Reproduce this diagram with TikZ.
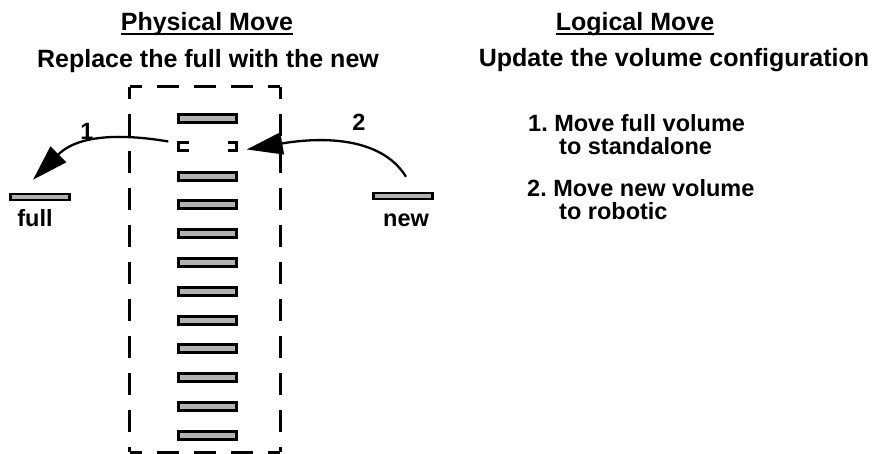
\documentclass[tikz,border=0pt]{standalone}
\usepackage{fontspec}
\setmainfont{Liberation Sans}
\usetikzlibrary{arrows.meta,calc}
\frenchspacing
\begin{document}
\begin{tikzpicture}[x=1pt,y=-1pt,
  slot/.style={draw=black,fill=gray!60,line width=3pt,minimum width=58pt,minimum height=8pt,inner sep=0pt},
  looseslot/.style={draw=black,fill=gray!60,line width=2.5pt,minimum width=59pt,minimum height=6pt,inner sep=0pt},
  slotspace/.style={minimum width=58pt,minimum height=7pt,inner sep=0pt},
  ttl/.style={font=\bfseries\fontsize{25}{25}\selectfont,inner sep=0pt,anchor=base},
  txt/.style={font=\bfseries\fontsize{23.5}{23.5}\selectfont,inner sep=0pt,anchor=base west},
  lbl/.style={font=\bfseries\fontsize{23.5}{23.5}\selectfont,inner sep=0pt,anchor=base},
  mv/.style={line width=2.3pt,-{Triangle[length=36pt,width=22pt]}},
  uline/.style={line width=2pt},
  rackedge/.style={line width=3pt,dash pattern=on 22pt off 15pt,dash phase=10pt},
  bracket/.style={line width=3pt,line join=miter}]
\useasboundingbox (0,0) rectangle (876,454);

% titles
\node[ttl] (phys) at (207,31) {Physical Move};
\draw[uline] ([yshift=-3.5pt]phys.base west) -- ([yshift=-3.5pt]phys.base east);
\node[ttl] (repl) at (208,68) {Replace the full with the new};
\node[ttl] (logi) at (635,31) {Logical Move};
\draw[uline] ([yshift=-3.5pt]logi.base west) -- ([yshift=-3.5pt]logi.base east);
\node[ttl] (upd) at (674,67) {Update the volume configuration};

% rack
\node[minimum width=150pt,minimum height=365pt,inner sep=0pt] (rack) at (205,269.5) {};
\draw[rackedge] (rack.north west) -- (rack.north east);
\draw[rackedge] (rack.south west) -- (rack.south east);
\draw[rackedge] (rack.north west) -- (rack.south west);
\draw[rackedge] (rack.north east) -- (rack.south east);

% slots
\foreach \i in {1,3,4,5,6,7,8,9,10,11,12}{
  \node[slot] (s\i) at (207.5,{118.5+(\i-1)*28.8}) {};
}
\node[slotspace] (s2) at (207.5,146.5) {};
\draw[bracket] ([xshift=11pt]s2.north west) -- (s2.north west) -- (s2.south west) -- ([xshift=11pt]s2.south west);
\draw[bracket] ([xshift=-9pt]s2.north east) -- (s2.north east) -- (s2.south east) -- ([xshift=-9pt]s2.south east);

% full and new
\node[looseslot] (full) at (40,197) {};
\node[lbl] (fulllbl) at (35,227) {full};
\node[looseslot] (new) at (403,196) {};
\node[lbl] (newlbl) at (406,227) {new};

% arrows
\draw[mv] ($(s2.west)+(-10,-5)$) .. controls +(-47,-8) and +(45,-45) .. ($(full.north)+(-7,-13)$);
\draw[mv] ($(new.north)+(3,-15)$) .. controls +(-26,-42) and +(70,-12) .. ($(s2.east)+(10,3)$);
\node[lbl] (n1) at (87,140) {1};
\node[lbl] (n2) at (359,131) {2};

% list
\node[txt] (i1a) at (528,132) {1. Move full volume};
\node[txt] (i1b) at (559,155) {to standalone};
\node[txt] (i2a) at (527,197) {2. Move new volume};
\node[txt] (i2b) at (559,220) {to robotic};
\end{tikzpicture}
\end{document}
